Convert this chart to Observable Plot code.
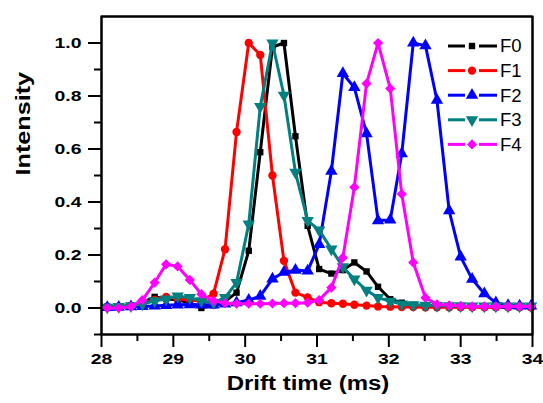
<!DOCTYPE html>
<html><head><meta charset="utf-8">
<script src="https://cdn.jsdelivr.net/npm/d3@7"></script>
<script src="https://cdn.jsdelivr.net/npm/@observablehq/plot@0.6"></script>
<style>
html,body{margin:0;padding:0;background:#fff;}
#chart{position:relative;width:543px;height:403px;}
</style></head><body><div id="chart"></div>
<script>
const driftTime = [28.08,28.24,28.41,28.57,28.74,28.90,29.06,29.23,29.39,29.56,29.72,29.88,30.05,30.21,30.38,30.54,30.70,30.87,31.03,31.20,31.36,31.52,31.69,31.85,32.02,32.18,32.34,32.51,32.67,32.84,33.00,33.16,33.33,33.49,33.66,33.82,33.98];
const F0 = [0.005,0.005,0.01,0.02,0.042,0.035,0.03,0.02,0.0,0.01,0.025,0.058,0.216,0.588,0.985,1.0,0.648,0.31,0.147,0.13,0.143,0.172,0.138,0.08,0.033,0.02,0.012,0.008,0.007,0.006,0.005,0.005,0.005,0.004,0.004,0.004,0.004];
const F1 = [0.003,0.005,0.008,0.015,0.03,0.042,0.035,0.03,0.025,0.054,0.222,0.664,1.0,0.955,0.5,0.178,0.058,0.04,0.022,0.018,0.016,0.012,0.009,0.006,0.005,0.004,0.004,0.003,0.003,0.003,0.003,0.003,0.003,0.003,0.003,0.003,0.003];
const F2 = [0.002,0.003,0.005,0.006,0.008,0.01,0.012,0.013,0.012,0.012,0.015,0.02,0.03,0.045,0.11,0.135,0.143,0.14,0.24,0.516,0.885,0.832,0.658,0.33,0.332,0.582,1.0,0.99,0.784,0.367,0.193,0.109,0.054,0.02,0.01,0.008,0.008];
const F3 = [0.003,0.005,0.008,0.015,0.027,0.034,0.045,0.039,0.027,0.02,0.039,0.096,0.317,0.76,1.0,0.803,0.512,0.33,0.294,0.222,0.155,0.109,0.067,0.039,0.025,0.015,0.012,0.01,0.009,0.008,0.008,0.007,0.007,0.007,0.007,0.007,0.007];
const F4 = [0.0,0.0,0.005,0.03,0.096,0.165,0.157,0.106,0.052,0.027,0.018,0.016,0.016,0.016,0.017,0.018,0.018,0.02,0.03,0.077,0.19,0.456,0.847,1.0,0.828,0.43,0.172,0.039,0.014,0.01,0.008,0.006,0.006,0.006,0.006,0.006,0.006];

const seriesNames = ["F0","F1","F2","F3","F4"];
const seriesValues = [F0,F1,F2,F3,F4];
const seriesColors = ["#000000","#ff0000","#0000ff","#008080","#ff00ff"];
const xDomain = [28, 34];
const yDomain = [-0.1, 1.1];
const xTicks = [28,29,30,31,32,33,34];
const xMinorTicks = [28.5,29.5,30.5,31.5,32.5,33.5];
const yTicks = [0.0,0.2,0.4,0.6,0.8,1.0];
const yMinorTicks = [-0.1,0.1,0.3,0.5,0.7,0.9];
const xLabel = "Drift time (ms)";
const yLabel = "Intensity";

const triangleDown = {
  draw(context, size) {
    const s3 = Math.sqrt(3);
    const y = -Math.sqrt(size / (s3 * 3));
    context.moveTo(0, -y * 2);
    context.lineTo(-s3 * y, y);
    context.lineTo(s3 * y, y);
    context.closePath();
  }
};
const symbols = ["square", "circle", "triangle", triangleDown, "diamond2"];
const d3Symbols = [d3.symbolSquare, d3.symbolCircle, d3.symbolTriangle, triangleDown, d3.symbolDiamond2];
const radii = [3.6, 4.2, 4.6, 4.6, 4.6];

const FONT = "'Liberation Sans', Arial, sans-serif";

const marks = [];
seriesNames.forEach((name, s) => {
  const rows = driftTime.map((t, i) => ({t, v: seriesValues[s][i], series: name}));
  marks.push(Plot.line(rows, {x: "t", y: "v", stroke: seriesColors[s], strokeWidth: 3}));
  marks.push(Plot.dot(rows, {x: "t", y: "v", fill: seriesColors[s], symbol: symbols[s], r: radii[s]}));
});

const plot = Plot.plot({
  width: 543, height: 403,
  marginLeft: 101, marginRight: 11, marginTop: 16, marginBottom: 69,
  style: {fontFamily: FONT},
  x: {domain: xDomain},
  y: {domain: yDomain},
  marks: [
    ...marks,
    Plot.frame({stroke: "#000", strokeWidth: 2}),
    Plot.ruleX(xDomain, {stroke: "#000", strokeWidth: 2}),
    Plot.ruleY(yDomain, {stroke: "#000", strokeWidth: 2}),
    Plot.axisX({ticks: xTicks, tickSize: 13, tickPadding: 5, strokeWidth: 2, fontSize: 15.5, fontWeight: "bold", label: null, tickFormat: d => String(d)}),
    Plot.axisX({ticks: xMinorTicks, tickSize: 7, strokeWidth: 2, label: null, tickFormat: () => ""}),
    Plot.axisY({ticks: yTicks, tickSize: 13, tickPadding: 7, strokeWidth: 2, fontSize: 15.5, fontWeight: "bold", label: null, tickFormat: d => d.toFixed(1)}),
    Plot.axisY({ticks: yMinorTicks, tickSize: 7, strokeWidth: 2, label: null, tickFormat: () => ""}),
    Plot.text([xLabel], {text: d => d, frameAnchor: "bottom", dy: 55, dx: -9, fontSize: 20, fontWeight: "bold"}),
    Plot.text([yLabel], {text: d => d, frameAnchor: "left", dx: -78, rotate: -90, fontSize: 21, fontWeight: "bold"})
  ]
});
const chart = document.getElementById("chart");
chart.appendChild(plot);

const svg = d3.select(plot);
svg.selectAll('g[aria-label="x-axis tick label"] text, g[aria-label="y-axis tick label"] text').each(function() {
  const w = this.getComputedTextLength();
  if (w > 0) {
    this.setAttribute("textLength", w * 1.25);
    this.setAttribute("lengthAdjust", "spacingAndGlyphs");
  }
});
svg.selectAll('g[aria-label="text"] text').each(function() {
  const w = this.getComputedTextLength();
  if (w > 0) {
    this.setAttribute("textLength", w * 1.2);
    this.setAttribute("lengthAdjust", "spacingAndGlyphs");
  }
});

// legend
const lg = svg.append("g").attr("class", "legend").attr("text-anchor", "start");
seriesNames.forEach((name, s) => {
  const cy = 46 + s * 24.6;
  const g = lg.append("g").attr("transform", `translate(0,${cy})`);
  g.append("line").attr("x1", 448).attr("x2", 465).attr("y1", 0).attr("y2", 0).attr("stroke", seriesColors[s]).attr("stroke-width", 3);
  g.append("line").attr("x1", 479).attr("x2", 497).attr("y1", 0).attr("y2", 0).attr("stroke", seriesColors[s]).attr("stroke-width", 3);
  g.append("path").attr("transform", "translate(472,0)").attr("d", d3.symbol(d3Symbols[s], Math.PI * radii[s] * radii[s])()).attr("fill", seriesColors[s]);
  g.append("text").attr("x", 500).attr("y", 0).attr("dy", "0.35em").attr("text-anchor", "start").attr("font-size", 18.5).attr("font-family", FONT).attr("fill", "#000").text(name);
});
</script>
</body></html>
